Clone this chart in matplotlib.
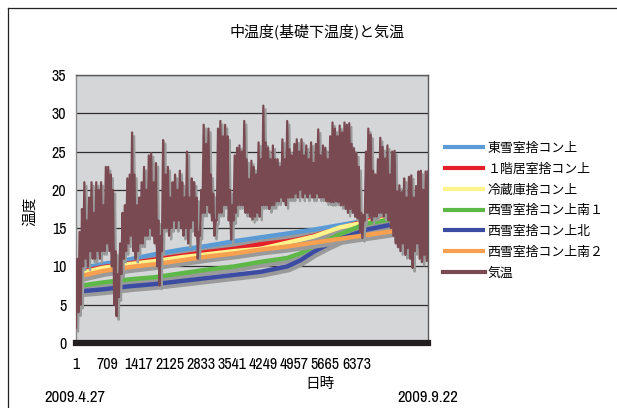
import matplotlib
matplotlib.use('Agg')
import matplotlib.pyplot as plt
import matplotlib.patheffects as pe
from matplotlib.lines import Line2D
import numpy as np

W, H = 617, 408
JP = ['Noto Sans CJK JP', 'DejaVu Sans']
NUM = ['Arial Narrow', 'Liberation Sans Narrow', 'Archivo Narrow', 'DejaVu Sans']

# ---------------- data ----------------
title = '中温度(基礎下温度)と気温'
names = ['東雪室捨コン上', '１階居室捨コン上', '冷蔵庫捨コン上',
         '西雪室捨コン上南１', '西雪室捨コン上北', '西雪室捨コン上南２', '気温']
colors = ['#5B9BD5', '#E4202B', '#FFF48C', '#5DB848', '#3C4CA2', '#F7A050', '#7A4A52']

xticks = [1, 709, 1417, 2125, 2833, 3541, 4249, 4957, 5665, 6373]
n_total = 8000
slab_idx = [1, 601, 1201, 1801, 2401, 3001, 3601, 4201, 4801, 5101, 5401, 5701,
            6001, 6601, 7201]

east = [9.6, 10.3, 10.9, 11.6, 12.2, 12.7, 13.3, 13.8, 14.3, 14.55, 14.8, 15.1,
        15.4, 16.0, 16.4]
room1 = [9.2, 9.9, 10.4, 10.9, 11.4, 11.9, 12.3, 12.9, 13.3, 13.6, 14.0, 14.5,
         15.0, 16.0, 16.5]
fridge = [9.0, 9.8, 10.3, 10.7, 11.2, 11.6, 12.0, 12.3, 13.1, 13.5, 13.9, 14.5,
          15.1, 15.8, 16.3]
west_s1 = [7.4, 7.9, 8.3, 8.6, 9.1, 9.6, 10.0, 10.6, 11.1, 11.7, 12.6, 13.4,
           14.2, 15.6, 16.2]
west_n = [6.7, 7.0, 7.4, 7.7, 8.1, 8.5, 8.9, 9.3, 10.0, 10.8, 11.9, 12.8,
          13.6, 14.8, 15.5]
west_s2 = [8.6, 9.4, 9.9, 10.3, 10.8, 11.3, 11.7, 12.2, 12.6, 12.85, 13.1, 13.35,
           13.6, 14.1, 14.6]

air_max = [11, 14.5, 17.5, 21, 16, 19, 21, 17, 21, 20,
           21, 18, 23, 23, 22, 20, 12, 9, 13, 17,
           18, 21.5, 22, 27.5, 22, 18, 19, 21, 23, 20,
           24.5, 24.8, 21, 23.5, 16, 14, 26.5, 22, 23, 19,
           21, 22, 20, 22.5, 21, 19, 25, 19, 21.5, 21,
           19, 14.5, 20, 28.5, 26, 28, 22, 19.5, 16, 28,
           29, 27, 28.5, 27, 20, 18, 24.5, 25.5, 25.8, 25,
           29, 24, 21.4, 23.8, 23, 22, 26.2, 24, 31, 26.2,
           25.5, 24, 25.8, 24, 24, 23, 26.6, 24, 29, 25.3,
           24.5, 26, 26.6, 25, 26.6, 24.5, 25.8, 24, 26.2, 23.5,
           26, 27.9, 24.5, 25.8, 25.5, 24, 27, 28.8, 28, 27,
           28.4, 27.5, 28.8, 28.5, 28.7, 26, 25.4, 24.8, 23, 17,
           16.7, 25, 28, 27.2, 22.5, 22, 24, 26.8, 25.6, 24.1,
           25.8, 22, 25, 25.1, 19.8, 20.6, 19.7, 21.5, 19, 21.7,
           21.9, 19, 20.5, 22.4, 22.5, 20, 22.4, 22.4]
air_min = [2, 4, 5, 10, 11, 10, 12, 11, 11, 12,
           11, 12, 12, 13, 12, 10, 5, 3.5, 6, 9,
           11, 12, 13, 14, 12, 11, 12, 13, 13, 14,
           14, 15, 14, 13, 10, 7.5, 12, 15, 15, 14,
           15, 16, 15, 16, 15, 14, 15, 13, 15, 16,
           14, 11, 14, 17, 17, 18, 17, 16, 14, 16,
           17, 17, 18, 18, 16, 13.5, 16, 17, 18, 18,
           18, 17, 17, 16.5, 16.2, 16.5, 17, 16.5, 18, 18,
           18, 17.5, 18, 18, 18.5, 18.5, 19, 18.5, 18, 19,
           19, 19, 19.5, 19, 20, 19, 19.5, 19, 19.5, 19,
           19, 19.5, 19, 19, 19, 18.5, 18.5, 18.4, 18.4, 18.5,
           18.4, 18, 18, 17.5, 17, 17.5, 17, 16.5, 16.3, 14.5,
           13.7, 16, 17, 16.5, 16, 16.5, 16.5, 17, 17, 16.5,
           17, 16, 15, 14, 13, 12.5, 12, 13, 11.5, 12.4,
           11, 9.8, 12, 13, 11, 10.6, 11.5, 10.7]

date_start = '2009.4.27'
date_end = '2009.9.22'

# ---------------- figure ----------------
fig = plt.figure(figsize=(W / 100, H / 100), dpi=100)
ax = fig.add_axes([76 / W, 1 - 343 / H, 352 / W, 268 / H])
ax.set_facecolor('#D5D6D8')

shadow = [pe.SimpleLineShadow(offset=(1.5, -2.6), shadow_color='#9A9A9A', alpha=1.0),
          pe.Normal()]

slabs = [east, room1, fridge, west_s1, west_n, west_s2]
handles = []
for vals, c, nm in zip(slabs, colors[:6], names[:6]):
    ln, = ax.plot(slab_idx, vals, color=c, lw=3.2, solid_capstyle='butt',
                  path_effects=shadow, zorder=3, label=nm)
    handles.append(ln)

air = []
for lo, hi in zip(air_min, air_max):
    air.append(lo)
    air.append(hi)
air_x = np.linspace(1, n_total, len(air))
ln, = ax.plot(air_x, air, color=colors[6], lw=1.6, path_effects=shadow,
              zorder=4, label=names[6])
handles.append(ln)

ax.axhline(0, color='#231F20', lw=4.5, zorder=5, clip_on=False)

ax.set_xlim(1, n_total)
ax.set_ylim(0, 35)
ax.set_yticks(range(0, 36, 5))
ax.set_xticks(xticks)
ax.set_xticklabels([str(t) for t in xticks])
ax.grid(axis='y', color='#2E2E2E', lw=0.9, zorder=1)
ax.grid(axis='x', visible=False)
ax.set_axisbelow(True)
ax.tick_params(length=0, labelsize=11.5, pad=7)
ax.tick_params(axis='x', pad=10)
for lab in ax.get_xticklabels() + ax.get_yticklabels():
    lab.set_family(NUM)
for s in ax.spines.values():
    s.set_color('#5A5A5A')
    s.set_linewidth(1.0)
ax.spines['left'].set_color('#8A8A8A')

# legend
leg = ax.legend(handles=handles, loc='upper left',
                bbox_to_anchor=(443 / W, 1 - 142 / H), bbox_transform=fig.transFigure,
                frameon=False, prop={'family': JP, 'size': 9.3},
                handlelength=3.25, handletextpad=0.2, labelspacing=0.6,
                borderpad=0, borderaxespad=0)
for h in leg.get_lines():
    h.set_linewidth(3.0)
    h.set_path_effects([])

# texts
fig.text(317 / W, 1 - 31 / H, title, ha='center', va='center', family=JP, fontsize=10.8)
fig.text(30 / W, 1 - 211 / H, '温度', ha='center', va='center', rotation=90,
         family=JP, fontsize=10.5)
fig.text(320 / W, 1 - 384 / H, '日時', ha='center', va='center', family=JP, fontsize=10.5)
fig.text(75 / W, 1 - 398 / H, date_start, ha='center', va='center', family=NUM, fontsize=12)
fig.text(428 / W, 1 - 397 / H, date_end, ha='center', va='center', family=NUM, fontsize=12)

# chart border (top and left edges)
fig.add_artist(Line2D([8 / W, 1], [1 - 8 / H, 1 - 8 / H], transform=fig.transFigure,
                      color='#222222', lw=0.9))
fig.add_artist(Line2D([8 / W, 8 / W], [1 - 8 / H, 0], transform=fig.transFigure,
                      color='#222222', lw=0.9))

fig.savefig('out.png', dpi=100)
